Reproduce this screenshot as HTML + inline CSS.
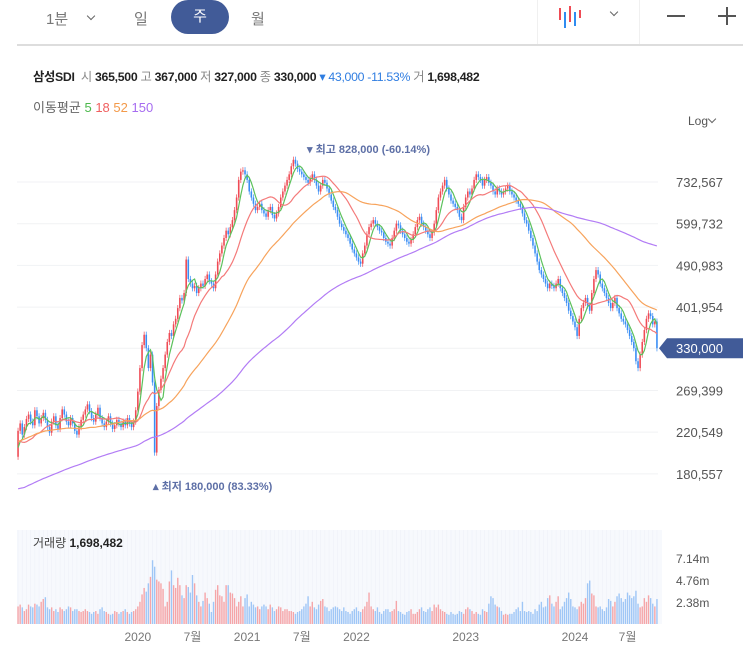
<!DOCTYPE html>
<html><head><meta charset="utf-8">
<style>
html,body{margin:0;padding:0;background:#fff;width:743px;height:659px;overflow:hidden;font-family:"Liberation Sans","Noto Sans CJK KR",sans-serif;}
#root{position:relative;width:743px;height:659px;}
.t{position:absolute;white-space:nowrap;}
.chev{position:absolute;width:5px;height:5px;border-right:1.3px solid #666;border-bottom:1.3px solid #666;transform:rotate(45deg);}
</style></head>
<body>
<div id="root">
  <div class="t" style="left:46px;top:8px;font-size:15px;color:#777;">1분</div>
  <div class="chev" style="left:88px;top:13px;"></div>
  <div class="t" style="left:134px;top:8px;font-size:15px;color:#777;">일</div>
  <div style="position:absolute;left:171px;top:0;width:58px;height:34px;border-radius:17px;background:#415b98;color:#fff;font-size:15px;text-align:center;line-height:34px;">주</div>
  <div class="t" style="left:251px;top:8px;font-size:15px;color:#777;">월</div>
  <div style="position:absolute;left:537px;top:0;width:1px;height:44px;background:#f0f0f0;"></div>
  <svg style="position:absolute;left:556px;top:4px;" width="30" height="26">
    <rect x="3" y="4" width="2" height="12" fill="#ef4b55"/><rect x="8" y="8" width="2" height="16" fill="#2f8cf0"/>
    <rect x="13" y="2" width="2" height="16" fill="#ef4b55"/><rect x="18" y="8" width="2" height="14" fill="#2f8cf0"/><rect x="23" y="6" width="2" height="8" fill="#ef4b55"/>
  </svg>
  <div class="chev" style="left:611px;top:9px;"></div>
  <div style="position:absolute;left:639px;top:0;width:1px;height:44px;background:#f0f0f0;"></div>
  <div style="position:absolute;left:667px;top:15px;width:18px;height:1.5px;background:#555;"></div>
  <div style="position:absolute;left:718px;top:7px;width:18px;height:18px;">
    <div style="position:absolute;left:0;top:8px;width:18px;height:1.5px;background:#555;"></div>
    <div style="position:absolute;left:8px;top:0;width:1.5px;height:18px;background:#555;"></div>
  </div>
  <div style="position:absolute;left:17px;top:44px;width:726px;height:2px;background:#ddd;"></div>

  <div class="t" style="left:33px;top:67px;font-size:12.3px;color:#222;letter-spacing:-0.3px;">
    <b>삼성SDI</b>&nbsp; <span style="color:#888">시</span> <b style="font-weight:600">365,500</b> <span style="color:#888">고</span> <b style="font-weight:600">367,000</b> <span style="color:#888">저</span> <b style="font-weight:600">327,000</b> <span style="color:#888">종</span> <b style="font-weight:600">330,000</b> <span style="color:#2f7de1">▾ 43,000 -11.53%</span> <span style="color:#888">거</span> <b style="font-weight:600">1,698,482</b>
  </div>
  <div class="t" style="left:33px;top:97px;font-size:13px;color:#666;">
    이동평균 <span style="color:#4cb84c">5</span> <span style="color:#f06060">18</span> <span style="color:#f39a4a">52</span> <span style="color:#a66cf0">150</span>
  </div>
  <div class="t" style="left:688px;top:114px;font-size:12px;color:#555;">Log</div>
  <div class="chev" style="left:709px;top:116px;"></div>

  <svg id="chart" width="743" height="659" style="position:absolute;left:0;top:0;"></svg>
</div>
<script>
// ----- data (weekly, thousands KRW) -----
const priorCloses = [106,112,116,119,114,110,117,122,118,124,120,115,113,118,123,126,121,117,122,127,131,125,120,124,129,132,128,123,127,133,136,131,126,130,135,139,133,129,134,138,142,137,132,136,141,145,140,135,139,144,148,142,138,143,147,144,
148,153,150,156,160,157,153,158,163,160,156,161,165,168,163,158,164,169,173,167,162,168,173,176,170,165,171,176,180,174,169,175,180,184,178,173,179,184,188,181,176,182,187,191,185,180,186,
190,196,202,198,205,210,206,214,220,216,211,222,228,224,218,225,231,236,230,224,230,235,240,235,228,222,228,234,229,222,216,210,205,200,208,214,209,202,196,200,206,200,196];
const closes = [222,230,218,226,235,240,232,228,245,238,230,236,242,234,226,220,232,238,228,224,236,246,240,232,228,236,230,222,218,226,234,240,246,252,244,236,232,240,248,236,230,226,232,238,230,224,228,234,230,226,232,228,236,230,226,232,
245,268,300,335,352,330,300,320,280,200,250,270,
285,300,320,340,355,350,370,380,400,420,415,430,505,460,450,440,445,430,440,450,445,460,470,455,450,440,470,500,520,540,560,580,570,590,610,640,680,740,770,775,
760,740,700,680,660,640,650,660,640,630,620,640,650,625,615,630,650,680,700,720,740,760,790,815,800,780,770,760,750,740,730,745,
760,740,720,700,720,740,730,710,690,670,650,640,620,600,590,580,570,560,545,530,520,510,500,495,520,540,570,590,600,610,
600,590,580,575,560,550,545,540,560,580,600,595,580,570,560,550,545,555,570,590,610,620,600,590,580,570,560,575,600,640,680,
700,720,740,710,690,670,660,650,640,620,610,650,680,700,690,710,740,760,750,740,720,740,750,730,720,700,690,710,700,690,700,710,720,700,690,680,670,660,
650,630,610,600,580,560,540,520,500,480,470,460,450,440,450,445,440,450,460,440,430,420,410,395,385,375,
365,350,380,400,410,420,405,395,430,460,480,470,450,440,430,420,410,400,410,420,400,390,380,375,370,360,350,340,330,310,300,320,340,360,380,390,385,370,375,330];
const volumes = [1900,2100,1800,1400,1600,2100,1900,1800,2200,2100,1900,2400,2700,2900,1800,1600,1800,1400,1600,1300,1800,1600,1400,1600,1900,1800,1400,1600,1600,1400,1300,1400,1600,1400,1300,1100,1300,1400,1100,1600,1800,1400,1300,1100,1000,1100,1400,1300,1100,1300,1400,1600,1300,1100,1300,1400,
1600,1900,2400,3200,3900,3500,4400,5100,6900,6200,4800,4600,
4400,3800,1900,2400,4600,5800,4200,3900,5000,4200,3100,2800,4200,4000,3400,5300,4400,3100,2400,1900,2500,3400,2800,2200,1300,2400,3700,4200,3100,3000,2400,4200,4200,3400,3300,2800,1900,2400,3000,1900,
2800,3200,1900,2400,2100,1800,1900,1600,1900,2100,1900,1600,2100,1800,1400,1600,1900,1800,1400,1600,1600,1400,1400,1300,1100,1300,1400,1600,1900,2200,3000,1900,
2400,1800,1600,2100,2500,2700,1900,1800,1400,1600,1800,1900,1800,1600,1400,1800,1400,1300,1100,1400,1600,1800,1400,1300,1600,1900,2400,3400,1900,1600,
1400,1800,1300,1100,1400,1600,1600,1300,1400,1600,2500,1400,1300,1100,1000,1300,1400,1600,1100,1100,1300,1600,1800,1400,1300,1600,1800,1400,2100,1800,2100,
1600,1400,1300,1100,1000,1300,1100,1000,1100,1400,1300,1100,1600,1800,1600,1400,1100,1300,1100,1000,1600,1400,1300,2200,3000,2800,2100,1900,1800,1400,1000,1100,1000,1100,1100,1300,1600,1800,
1400,2400,1400,1300,1400,1300,1100,1600,1400,2100,2400,1800,1900,2800,3100,2200,1900,2400,3000,1600,1900,2400,2800,3400,2700,1900,
1800,1600,1900,2400,2200,2800,4400,4700,3300,3100,1900,1800,1900,1600,1400,1800,2700,2500,1900,2400,3000,3300,2800,2400,2700,3400,3100,2800,3000,3600,2200,1800,1900,2800,2400,3100,2800,2200,1900,2700];
const priceTicks = [732567,599732,490983,401954,330000,269399,220549,180557];
const priceTickLabels = ["732,567","599,732","490,983","401,954","330,000","269,399","220,549","180,557"];
const volTicks = [7.14,4.76,2.38];
const volTickLabels = ["7.14m","4.76m","2.38m"];
const xLabels = ["2020","7월","2021","7월","2022","2023","2024","7월"];
const xLabelWeeks = [57,83,109,135,161,213,265,290];
const maPeriods = [5,18,52,150];
const maColors = ["#5cc15c","#f47a7a","#f7a35c","#b27cf5"];

// ----- scales -----
const svg = document.getElementById('chart');
const NS = 'http://www.w3.org/2000/svg';
const X0 = 17, X1 = 658, N = closes.length;
const step = (X1 - X0) / N;
const xOf = i => X0 + (i + 0.5) * step;
const yOf = v => 182 + 208.4 * Math.log(732.567 / v); // v in thousands
const vY = v => 624 - v / 2380 * 22;
function mk(tag, attrs, parent) { const e = document.createElementNS(NS, tag); for (const k in attrs) e.setAttribute(k, attrs[k]); (parent || svg).appendChild(e); return e; }

priceTicks.forEach((p, i) => {
  const y = yOf(p / 1000);
  const g = mk('line', {x1: X0, x2: X1, y1: y, y2: y, stroke: '#f1f2f4', 'stroke-width': 1});
  
  
  if (i === 4) return;
  const t = mk('text', {x: 676, y: y + 5, 'font-size': 13, fill: '#555', 'font-family': 'Liberation Sans, sans-serif'});
  t.textContent = priceTickLabels[i];
  
  
});

const vbg = mk('rect', {x: X0, y: 530, width: X1 - X0 + 4, height: 94, fill: '#f7f9fd'});


for (let i = 0; i < N; i += 2) {
  const l = mk('line', {x1: xOf(i), x2: xOf(i), y1: 530, y2: 624, stroke: '#eef1f8', 'stroke-width': 0.6});
  
  
}

const all = priorCloses.concat(closes);
const off = priorCloses.length;
for (let i = 0; i < N; i++) {
  const c = closes[i], o = i === 0 ? priorCloses[off - 1] : closes[i - 1];
  const up = c >= o;
  const hi = Math.max(o, c) * 1.015, lo = Math.min(o, c) * 0.985;
  const col = up ? '#ef4b55' : '#3a8ef5';
  const x = xOf(i);
  const w = mk('line', {x1: x, x2: x, y1: yOf(hi), y2: yOf(lo), stroke: col, 'stroke-width': 0.7});
  
  
  const yt = Math.min(yOf(o), yOf(c)), yb = Math.max(yOf(o), yOf(c));
  const b = mk('rect', {x: x - 0.8, y: yt, width: 1.6, height: Math.max(1, yb - yt), fill: col});
  
  
  const vy = vY(volumes[i]);
  const vb = mk('rect', {x: x - 0.7, y: vy, width: 1.4, height: 624 - vy, fill: up ? '#f5a5a8' : '#9fc6f6'});
  
  
}

maPeriods.forEach((p, k) => {
  let d = '';
  for (let i = 0; i < N; i++) {
    const j = off + i;
    const start = Math.max(0, j - p + 1);
    let s = 0; for (let m = start; m <= j; m++) s += all[m];
    d += (d ? 'L' : 'M') + xOf(i).toFixed(1) + ',' + yOf(s / (j - start + 1)).toFixed(1);
  }
  const pth = mk('path', {d: d, fill: 'none', stroke: maColors[k], 'stroke-width': 1.2});
  
  
});

const hiAnn = mk('text', {x: 307, y: 153, 'font-size': 11, fill: '#5d6fa6', 'font-weight': 'bold', 'font-family': 'Liberation Sans, Noto Sans CJK KR, sans-serif'});
hiAnn.textContent = '▾ 최고 828,000 (-60.14%)';


const loAnn = mk('text', {x: 153, y: 490, 'font-size': 11, fill: '#5d6fa6', 'font-weight': 'bold', 'font-family': 'Liberation Sans, Noto Sans CJK KR, sans-serif'});
loAnn.textContent = '▴ 최저 180,000 (83.33%)';



const cy = yOf(330);
const tag = mk('path', {d: `M659,${cy} L667,${cy - 10} L743,${cy - 10} L743,${cy + 10} L667,${cy + 10} Z`, fill: '#415b98'});


const tt = mk('text', {x: 676, y: cy + 5, 'font-size': 13, fill: '#fff', 'font-family': 'Liberation Sans, sans-serif'});
tt.textContent = '330,000';



volTicks.forEach((v, i) => {
  const t = mk('text', {x: 676, y: vY(v * 1000) + 5, 'font-size': 12, fill: '#555', 'font-family': 'Liberation Sans, sans-serif'});
  t.textContent = volTickLabels[i];
  
  
});
const vt = mk('text', {x: 33, y: 547, 'font-size': 12, fill: '#444', 'font-family': 'Liberation Sans, Noto Sans CJK KR, sans-serif'});
vt.innerHTML = '거래량 <tspan font-weight="bold" fill="#222">1,698,482</tspan>';



xLabels.forEach((s, i) => {
  const t = mk('text', {x: xOf(xLabelWeeks[i]), y: 641, 'font-size': 12, fill: '#777', 'text-anchor': 'middle', 'font-family': 'Liberation Sans, Noto Sans CJK KR, sans-serif'});
  t.textContent = s;
  
  
});
</script>
</body></html>
